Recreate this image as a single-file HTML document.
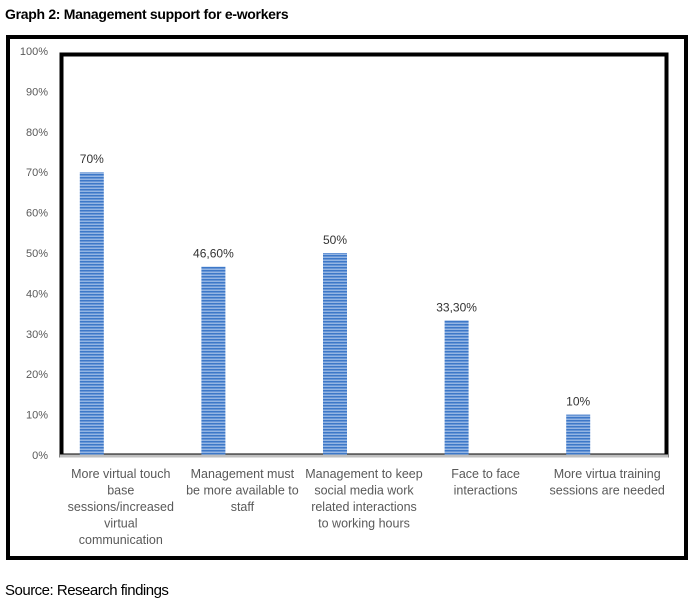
<!DOCTYPE html>
<html><head><meta charset="utf-8"><style>
body{margin:0;width:695px;height:602px;background:#fff;position:relative;overflow:hidden;font-family:"Liberation Sans",sans-serif}
.t{position:absolute;white-space:nowrap}
</style></head><body>
<div class="t" style="left:5px;top:6px;font-size:14px;font-weight:bold;letter-spacing:-0.3px">Graph 2: Management support for e-workers</div>
<div style="position:absolute;left:6px;top:35px;width:674px;height:517px;border:4px solid #000"></div>
<svg id="c" width="695" height="602" style="position:absolute;left:0;top:0">
<defs><pattern id="st" width="4" height="3" patternUnits="userSpaceOnUse"><rect width="4" height="3" fill="#3d78c8"/><rect y="1.6" width="4" height="1.2" fill="#a9c4ea"/></pattern></defs>
<rect x="61.5" y="54.5" width="605" height="401" fill="none" stroke="#000" stroke-width="4"/>
</svg>
<div class="t" style="left:5px;top:582px;font-size:15px;letter-spacing:-0.5px">Source: Research findings</div>
<script>
const categories=[["More virtual touch","base","sessions/increased","virtual","communication"],["Management must","be more available to","staff"],["Management to keep","social media work","related interactions","to working hours"],["Face to face","interactions"],["More virtua training","sessions are needed"]];
const values=[70,46.6,50,33.3,10];
const valueLabels=["70%","46,60%","50%","33,30%","10%"];
const ticks=[0,10,20,30,40,50,60,70,80,90,100];
const svg=document.getElementById('c');const NS="http://www.w3.org/2000/svg";
const x0=60,x1=668,y0=455,y100=51;
const y=v=>y0-(v/100)*(y0-y100);
const band=(x1-x0)/categories.length;
const xc=i=>x0+band*(i+0.5);
const xb=i=>xc(i)-29;
function el(t,a){const e=document.createElementNS(NS,t);for(const k in a)e.setAttribute(k,a[k]);svg.appendChild(e);return e;}
ticks.forEach(t=>{const e=el('text',{x:48,y:y(t)+4,'text-anchor':'end','font-size':'11','fill':'#595959','font-family':'Liberation Sans, sans-serif'});e.textContent=t+'%';

});
values.forEach((v,i)=>{const r=el('rect',{x:xb(i)-12,y:y(v),width:24,height:y0-y(v),fill:'url(#st)'});


const l=el('text',{x:xb(i),y:y(v)-9,'text-anchor':'middle','font-size':'12','fill':'#333','font-family':'Liberation Sans, sans-serif'});l.textContent=valueLabels[i];


categories[i].forEach((ln,j)=>{const c=el('text',{x:xc(i),y:478+j*16.5,'text-anchor':'middle','font-size':'12.5','fill':'#595959','font-family':'Liberation Sans, sans-serif'});c.textContent=ln;

});});
const ax=el('line',{x1:x0,x2:x1,y1:y0+1,y2:y0+1,stroke:'#bfbfbf','stroke-width':3});


</script>
</body></html>
